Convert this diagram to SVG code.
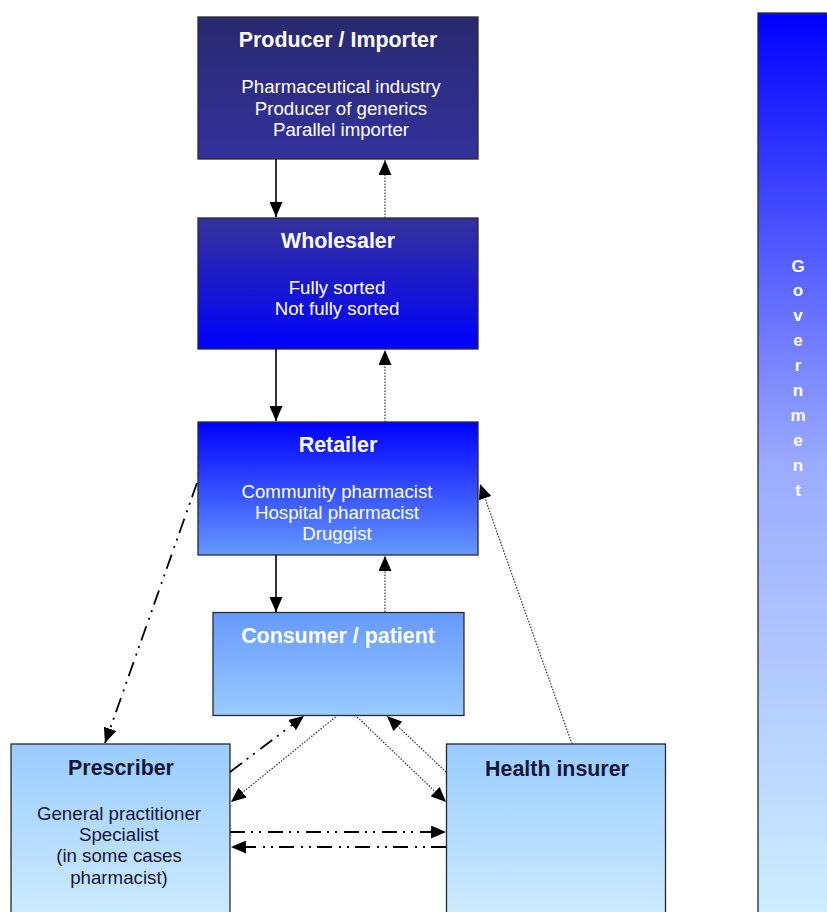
<svg xmlns="http://www.w3.org/2000/svg" width="827" height="912" viewBox="0 0 827 912">
<defs>
<linearGradient id="gProd" x1="0" y1="0" x2="0" y2="1"><stop offset="0" stop-color="#29296f"/><stop offset="1" stop-color="#32329c"/></linearGradient>
<linearGradient id="gWhole" x1="0" y1="0" x2="0" y2="1"><stop offset="0" stop-color="#333399"/><stop offset="1" stop-color="#0000ff"/></linearGradient>
<linearGradient id="gRet" x1="0" y1="0" x2="0" y2="1"><stop offset="0" stop-color="#0000ff"/><stop offset="1" stop-color="#6699ff"/></linearGradient>
<linearGradient id="gCons" x1="0" y1="0" x2="0" y2="1"><stop offset="0" stop-color="#6699ff"/><stop offset="1" stop-color="#99ccff"/></linearGradient>
<linearGradient id="gLow" gradientUnits="userSpaceOnUse" x1="0" y1="744" x2="0" y2="912"><stop offset="0" stop-color="#99ccff"/><stop offset="1" stop-color="#cceaff"/></linearGradient>
<linearGradient id="gGov" gradientUnits="userSpaceOnUse" x1="0" y1="13" x2="0" y2="912"><stop offset="0" stop-color="#0000ff"/><stop offset="0.5" stop-color="#9aaaff"/><stop offset="1" stop-color="#cceeff"/></linearGradient>
<marker id="arr" markerUnits="userSpaceOnUse" markerWidth="15" markerHeight="13" refX="15" refY="6.5" orient="auto" viewBox="0 0 15 13">
<path d="M0,0 L15,6.5 L0,13 z" fill="#000"/>
</marker>
<clipPath id="retClip"><rect x="198" y="422" width="280" height="121.5"/></clipPath>
</defs>
<style>
.box{stroke:#2a2a2a;stroke-width:1.3}
.t{font-family:"Liberation Sans",Arial,sans-serif;font-weight:bold;font-size:21.4px;text-anchor:middle}
.s{font-family:"Liberation Sans",Arial,sans-serif;font-size:18.7px;text-anchor:middle}
.w{fill:#ffffff}
.d{fill:#15153a}
.solid{stroke:#000;stroke-width:1.6;fill:none}
.dot{stroke:#333;stroke-width:1.2;stroke-dasharray:1.5 1.5;fill:none}
.dd{stroke:#000;stroke-width:1.8;fill:none;stroke-dasharray:15 6 2 6 2 7}
.gov{font-family:"Liberation Sans",Arial,sans-serif;font-weight:bold;font-size:17px;text-anchor:middle;fill:#ffffff}
</style>
<rect width="827" height="912" fill="#ffffff"/>

<g id="government">
<rect class="box" x="758" y="13" width="80" height="920" fill="url(#gGov)"/>
<text class="gov" x="798" y="272">G</text>
<text class="gov" x="798" y="296">o</text>
<text class="gov" x="798" y="321">v</text>
<text class="gov" x="798" y="346">e</text>
<text class="gov" x="798" y="371">r</text>
<text class="gov" x="798" y="396">n</text>
<text class="gov" x="798" y="421">m</text>
<text class="gov" x="798" y="446">e</text>
<text class="gov" x="798" y="471">n</text>
<text class="gov" x="798" y="496">t</text>
</g>

<g id="producer">
<rect class="box" x="198" y="17" width="280" height="142" fill="url(#gProd)"/>
<text class="t w" x="338" y="47">Producer / Importer</text>
<text class="s w" x="341" y="93">Pharmaceutical industry</text>
<text class="s w" x="341" y="114.5">Producer of generics</text>
<text class="s w" x="341" y="136">Parallel importer</text>
</g>

<g id="wholesaler">
<rect class="box" x="198" y="218" width="280" height="131" fill="url(#gWhole)"/>
<text class="t w" x="338" y="248">Wholesaler</text>
<text class="s w" x="337" y="293.5">Fully sorted</text>
<text class="s w" x="337" y="315">Not fully sorted</text>
</g>

<g id="retailer">
<rect class="box" x="198" y="422" width="280" height="133" fill="url(#gRet)"/>
<text class="t w" x="338" y="452">Retailer</text>
<text class="s w" x="337" y="497.5">Community pharmacist</text>
<text class="s w" x="337" y="518.5">Hospital pharmacist</text>
<text class="s w" x="337" y="540" clip-path="url(#retClip)">Druggist</text>
</g>

<g id="consumer">
<rect class="box" x="213" y="612.5" width="251" height="103" fill="url(#gCons)"/>
<text class="t w" x="338" y="643">Consumer / patient</text>
</g>

<g id="prescriber">
<rect class="box" x="11" y="744" width="219" height="190" fill="url(#gLow)"/>
<text class="t d" x="121" y="774.5">Prescriber</text>
<text class="s d" x="119" y="819.5">General practitioner</text>
<text class="s d" x="119" y="840.5">Specialist</text>
<text class="s d" x="119" y="862">(in some cases</text>
<text class="s d" x="119" y="883.5">pharmacist)</text>
</g>

<g id="health-insurer">
<rect class="box" x="446.5" y="744" width="219" height="190" fill="url(#gLow)"/>
<text class="t d" x="557" y="776">Health insurer</text>
</g>

<g id="connectors">
<line class="solid" x1="276" y1="159" x2="276" y2="217" marker-end="url(#arr)"/>
<line class="dot" x1="385" y1="218" x2="385" y2="160" marker-end="url(#arr)"/>
<line class="solid" x1="276" y1="349" x2="276" y2="421" marker-end="url(#arr)"/>
<line class="dot" x1="385" y1="422" x2="385" y2="350" marker-end="url(#arr)"/>
<line class="solid" x1="276" y1="555" x2="276" y2="612" marker-end="url(#arr)"/>
<line class="dot" x1="385" y1="612" x2="385" y2="556" marker-end="url(#arr)"/>
<line class="dd" x1="197" y1="483" x2="105" y2="743" marker-end="url(#arr)"/>
<line class="dot" x1="572" y1="744" x2="480" y2="484" marker-end="url(#arr)"/>
<line class="dd" x1="230" y1="772" x2="304" y2="716" marker-end="url(#arr)"/>
<line class="dot" x1="338" y1="715" x2="231" y2="802" marker-end="url(#arr)"/>
<line class="dot" x1="355" y1="715" x2="446" y2="802" marker-end="url(#arr)"/>
<line class="dot" x1="446" y1="772" x2="387" y2="716" marker-end="url(#arr)"/>
<line class="dd" x1="230" y1="832" x2="446" y2="832" marker-end="url(#arr)"/>
<line class="dd" x1="446" y1="847" x2="231" y2="847" marker-end="url(#arr)"/>
</g>
</svg>
